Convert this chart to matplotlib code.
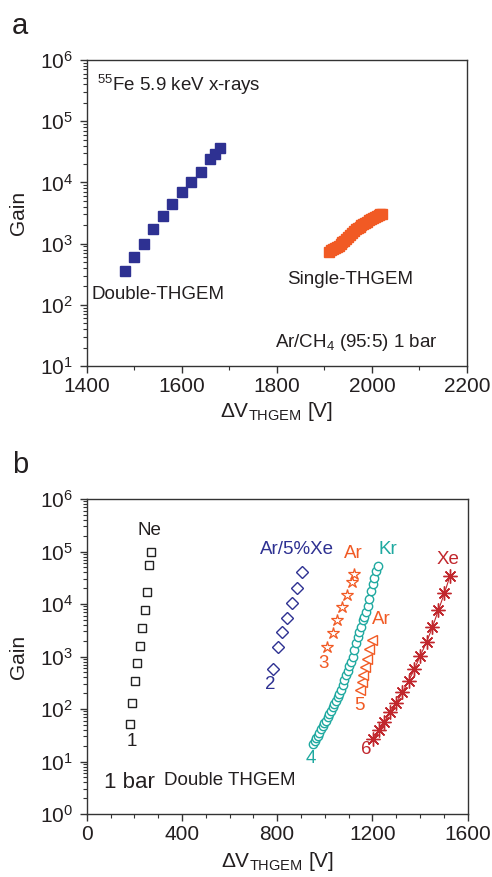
import matplotlib
matplotlib.use("Agg")
import matplotlib.pyplot as plt
from matplotlib.ticker import LogLocator, MultipleLocator, NullFormatter

plt.rcParams['font.family'] = ['Liberation Sans', 'DejaVu Sans']
plt.rcParams['mathtext.fontset'] = 'custom'
plt.rcParams['mathtext.rm'] = 'Liberation Sans'
plt.rcParams['mathtext.it'] = 'Liberation Sans:italic'
plt.rcParams['mathtext.bf'] = 'Liberation Sans:bold'
plt.rcParams['mathtext.default'] = 'regular'

# ---------------- Panel a data ----------------
double_v = [1480, 1500, 1520, 1540, 1560, 1580, 1600, 1620, 1640, 1660, 1670, 1680]
double_gain = [350, 600, 1000, 1700, 2800, 4500, 7000, 10000, 15000, 24000, 29000, 36000]

single_v = [1910, 1914, 1918, 1922, 1926, 1930, 1934, 1938, 1942, 1946, 1950, 1954,
            1958, 1962, 1966, 1970, 1974, 1978, 1982, 1986, 1990, 1994, 1998, 2002,
            2006, 2010, 2014, 2018, 2021]
single_gain = [740, 780, 810, 850, 890, 930, 980, 1050, 1120, 1200, 1290, 1380,
               1480, 1620, 1740, 1820, 1900, 2000, 2090, 2190, 2290, 2400, 2510, 2570,
               2690, 2820, 2880, 3020, 3090]

# ---------------- Panel b data ----------------
ne_v = [269, 263, 253, 244, 232, 223, 213, 203, 192, 183]
ne_gain = [100000, 55000, 17000, 7600, 3460, 1580, 740, 340, 133, 52]

arxe_v = [903, 883, 862, 843, 822, 802, 784]
arxe_gain = [41000, 20500, 10500, 5300, 2900, 1490, 590]

ar3_v = [1123, 1114, 1092, 1072, 1051, 1033, 1011]
ar3_gain = [37000, 26700, 15000, 8900, 4900, 2800, 1500]

kr_v = [952, 958, 964, 970, 977, 984, 991, 998, 1005, 1012, 1019, 1026, 1033, 1040,
        1047, 1054, 1061, 1068, 1075, 1082, 1089, 1096, 1103, 1110, 1117, 1124, 1131,
        1138, 1145, 1152, 1159, 1166, 1173, 1180, 1187, 1194, 1201, 1208, 1215, 1222]
kr_gain = [22, 25, 28, 31, 35, 41, 47, 54, 60, 69, 79, 93, 107, 126, 145, 170, 195,
           234, 288, 355, 436, 525, 646, 776, 1000, 1350, 1820, 2400, 2950, 3630,
           4900, 5600, 7080, 9300, 12600, 17800, 24000, 31600, 41700, 52500]

ar5_v = [1148, 1155, 1162, 1169, 1177, 1187, 1198]
ar5_gain = [233, 324, 448, 630, 912, 1420, 2060]

xe_v = [1526, 1502, 1477, 1452, 1428, 1400, 1376, 1352, 1326, 1301, 1275, 1250, 1226, 1201]
xe_gain = [34400, 15900, 7590, 3620, 1915, 1010, 568, 343, 207, 133, 88, 56, 39, 27]

NAVY = '#2e3192'
ORANGE = '#f15a24'
TEAL = '#1fa9a0'
RED = '#c1272d'
TXT = '#231f20'
AX = '#333333'

fig = plt.figure(figsize=(4.92, 8.77), dpi=100)
axA = fig.add_axes([0.1762, 0.5827, 0.7730, 0.3489])
axB = fig.add_axes([0.1762, 0.0718, 0.7743, 0.3592])

FS = 15
AFS = 13.5


def style(ax):
    ax.set_yscale('log')
    for s in ax.spines.values():
        s.set_color(AX)
        s.set_linewidth(1.0)
    ax.tick_params(axis='both', which='both', direction='out', colors=AX,
                   labelcolor=TXT, labelsize=FS, top=False, right=False)
    ax.tick_params(axis='both', which='major', length=5, width=1.0)
    ax.tick_params(axis='both', which='minor', length=3, width=0.8)
    ax.tick_params(axis='y', which='major', pad=5)
    ax.tick_params(axis='x', which='major', pad=3)
    ax.yaxis.set_major_locator(LogLocator(base=10, numticks=10))
    ax.yaxis.set_minor_locator(LogLocator(base=10, subs=range(2, 10), numticks=20))
    ax.yaxis.set_minor_formatter(NullFormatter())


# ---------------- Panel a ----------------
style(axA)
axA.set_xlim(1400, 2200)
axA.set_ylim(10, 1e6)
axA.xaxis.set_major_locator(MultipleLocator(200))
axA.xaxis.set_minor_locator(MultipleLocator(100))
axA.plot(single_v, single_gain, ls='none', marker='s', ms=6.5, color=ORANGE, mec=ORANGE)
axA.plot(double_v, double_gain, ls='none', marker='s', ms=6.5, color=NAVY, mec=NAVY)
axA.text(1421, 10**5.59, r'$^{55}$Fe 5.9 keV x-rays', fontsize=AFS, color=TXT, ha='left', va='center')
axA.text(1551, 10**2.16, 'Double-THGEM', fontsize=AFS, color=TXT, ha='center', va='center')
axA.text(1955, 10**2.42, 'Single-THGEM', fontsize=AFS, color=TXT, ha='center', va='center')
axA.text(1966, 10**1.39, r'Ar/CH$_4$ (95:5) 1 bar', fontsize=AFS, color=TXT, ha='center', va='center')
axA.set_ylabel('Gain', fontsize=FS, color=TXT)
axA.yaxis.set_label_coords(-0.155, 0.5)
axA.set_xlabel(r'$\Delta$V$_{\mathrm{THGEM}}$ [V]', fontsize=FS, color=TXT)
axA.xaxis.set_label_coords(0.5, -0.11)
fig.text(20 / 492, 1 - 26 / 877, 'a', fontsize=21, color=TXT, ha='center', va='center')

# ---------------- Panel b ----------------
style(axB)
axB.set_xlim(0, 1600)
axB.set_ylim(1, 1e6)
axB.xaxis.set_major_locator(MultipleLocator(400))
axB.xaxis.set_minor_locator(MultipleLocator(100))

axB.plot(ne_v, ne_gain, ls='none', marker='s', ms=5.5, mfc='white', mec='#222222', mew=1.0)
axB.plot(arxe_v, arxe_gain, ls='none', marker='D', ms=6.5, mfc='white', mec=NAVY, mew=1.0)
axB.plot(ar3_v, ar3_gain, ls='none', marker='*', ms=9.0, mfc='white', mec=ORANGE, mew=0.9)
axB.plot(kr_v, kr_gain, ls='none', marker='o', ms=6.0, mfc='white', mec=TEAL, mew=1.0)
axB.plot(ar5_v, ar5_gain, ls='none', marker='<', ms=7.0, mfc='white', mec=ORANGE, mew=1.0)
axB.plot(xe_v, xe_gain, ls='-', lw=0.8, color=RED, marker=(8, 2, 0), ms=10.0, mec=RED, mew=1.0)
axB.plot(xe_v, xe_gain, ls='none', marker='o', ms=2.5, color=RED)

lab = dict(fontsize=AFS, ha='center', va='center')
axB.text(263, 10**5.4, 'Ne', color=TXT, **lab)
axB.text(189, 10**1.38, '1', color=TXT, **lab)
axB.text(882, 10**5.03, 'Ar/5%Xe', color=NAVY, **lab)
axB.text(770, 10**2.46, '2', color=NAVY, **lab)
axB.text(1120, 10**4.97, 'Ar', color=ORANGE, **lab)
axB.text(994, 10**2.86, '3', color=ORANGE, **lab)
axB.text(1267, 10**5.03, 'Kr', color=TEAL, **lab)
axB.text(942, 10**1.05, '4', color=TEAL, **lab)
axB.text(1239, 10**3.70, 'Ar', color=ORANGE, **lab)
axB.text(1145, 10**2.06, '5', color=ORANGE, **lab)
axB.text(1516, 10**4.85, 'Xe', color=RED, **lab)
axB.text(1173, 10**1.22, '6', color=RED, **lab)
axB.text(179, 10**0.61, '1 bar', fontsize=16, color=TXT, ha='center', va='center')
axB.text(599, 10**0.64, 'Double THGEM', fontsize=AFS, color=TXT, ha='center', va='center')

axB.set_ylabel('Gain', fontsize=FS, color=TXT)
axB.yaxis.set_label_coords(-0.155, 0.5)
axB.set_xlabel(r'$\Delta$V$_{\mathrm{THGEM}}$ [V]', fontsize=FS, color=TXT)
axB.xaxis.set_label_coords(0.5, -0.115)
fig.text(20 / 492, 1 - 465 / 877, 'b', fontsize=21, color=TXT, ha='center', va='center')

fig.savefig('out.png', dpi=100)
